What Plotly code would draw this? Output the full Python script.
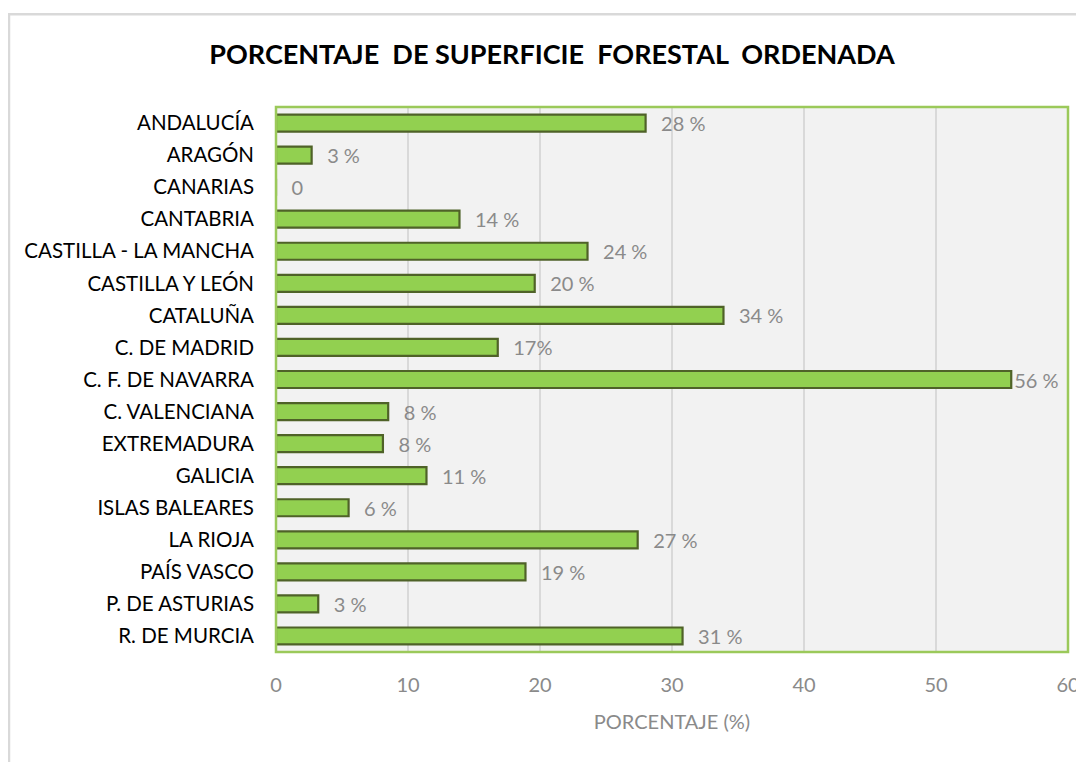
import plotly.graph_objects as go

regions = ["ANDALUCÍA", "ARAGÓN", "CANARIAS", "CANTABRIA", "CASTILLA - LA MANCHA",
           "CASTILLA Y LEÓN", "CATALUÑA", "C. DE MADRID", "C. F. DE NAVARRA",
           "C. VALENCIANA", "EXTREMADURA", "GALICIA", "ISLAS BALEARES", "LA RIOJA",
           "PAÍS VASCO", "P. DE ASTURIAS", "R. DE MURCIA"]
values = [28.0, 2.7, 0.0, 13.9, 23.6, 19.6, 33.9, 16.8, 55.7, 8.5, 8.1, 11.4, 5.5,
          27.4, 18.9, 3.2, 30.8]
labels = ["28 %", "3 %", "0", "14 %", "24 %", "20 %", "34 %", "17%", "56 %", "8 %",
          "8 %", "11 %", "6 %", "27 %", "19 %", "3 %", "31 %"]
x_ticks = [0, 10, 20, 30, 40, 50, 60]

FONT = "Lato"
GREY = "#8a8a8a"

# labels sit a little away from the bar end unless the bar almost fills the axis
shown = [(("\u2002\u2009" + t) if v < 50 else t) for v, t in zip(values, labels)]

fig = go.Figure()
fig.add_trace(go.Bar(
    y=regions, x=values, orientation="h",
    text=shown, textposition="outside", cliponaxis=False, constraintext="none",
    textfont=dict(family=FONT, size=20, color=GREY),
    marker=dict(color="#92d050", line=dict(color="#4f6228", width=2.2)),
    hoverinfo="x+y",
))

W, H = 1082, 754
L, R, T, B = 268, 22, 99, 110
pw, ph = W - L - R, H - T - B

def px(x):
    return (x - L) / pw

def py(y):
    return (H - B - y) / ph

fig.update_layout(
    width=W, height=H,
    margin=dict(l=L, r=R, t=T, b=B, autoexpand=False),
    paper_bgcolor="white",
    plot_bgcolor="#f2f2f2",
    bargap=0.47,
    showlegend=False,
    title=dict(text="<b>PORCENTAJE  DE SUPERFICIE  FORESTAL  ORDENADA</b>",
               xref="container", x=544 / W, xanchor="center",
               yref="container", y=1 - 47 / H, yanchor="middle",
               font=dict(family=FONT, size=27, color="black")),
    xaxis=dict(range=[0, 60], tickvals=x_ticks, showgrid=True, gridcolor="#d9d9d9",
               gridwidth=1.5, zeroline=False, showline=False, automargin=False,
               tickfont=dict(family=FONT, size=20, color=GREY),
               ticks="", ticklabelstandoff=19,
               title=dict(text="PORCENTAJE (%)", standoff=19,
                          font=dict(family=FONT, size=20, color=GREY))),
    yaxis=dict(categoryorder="array", categoryarray=regions, autorange="reversed",
               showgrid=False, zeroline=False, showline=False, ticks="",
               automargin=False,
               tickfont=dict(family=FONT, size=20.5, color="black"),
               ticklabelstandoff=21),
    shapes=[
        dict(type="rect", xref="paper", yref="paper", x0=0, x1=1, y0=0, y1=1,
             line=dict(color="#9bc95a", width=2.5), layer="above"),
        dict(type="line", xref="paper", yref="paper", x0=px(0), x1=px(W + 5),
             y0=py(6.3), y1=py(6.3), line=dict(color="#d9d9d9", width=2.5)),
        dict(type="line", xref="paper", yref="paper", x0=px(1), x1=px(1),
             y0=py(6.3), y1=py(H + 5), line=dict(color="#d9d9d9", width=2.5)),
    ],
)

fig.write_html("out.html")
